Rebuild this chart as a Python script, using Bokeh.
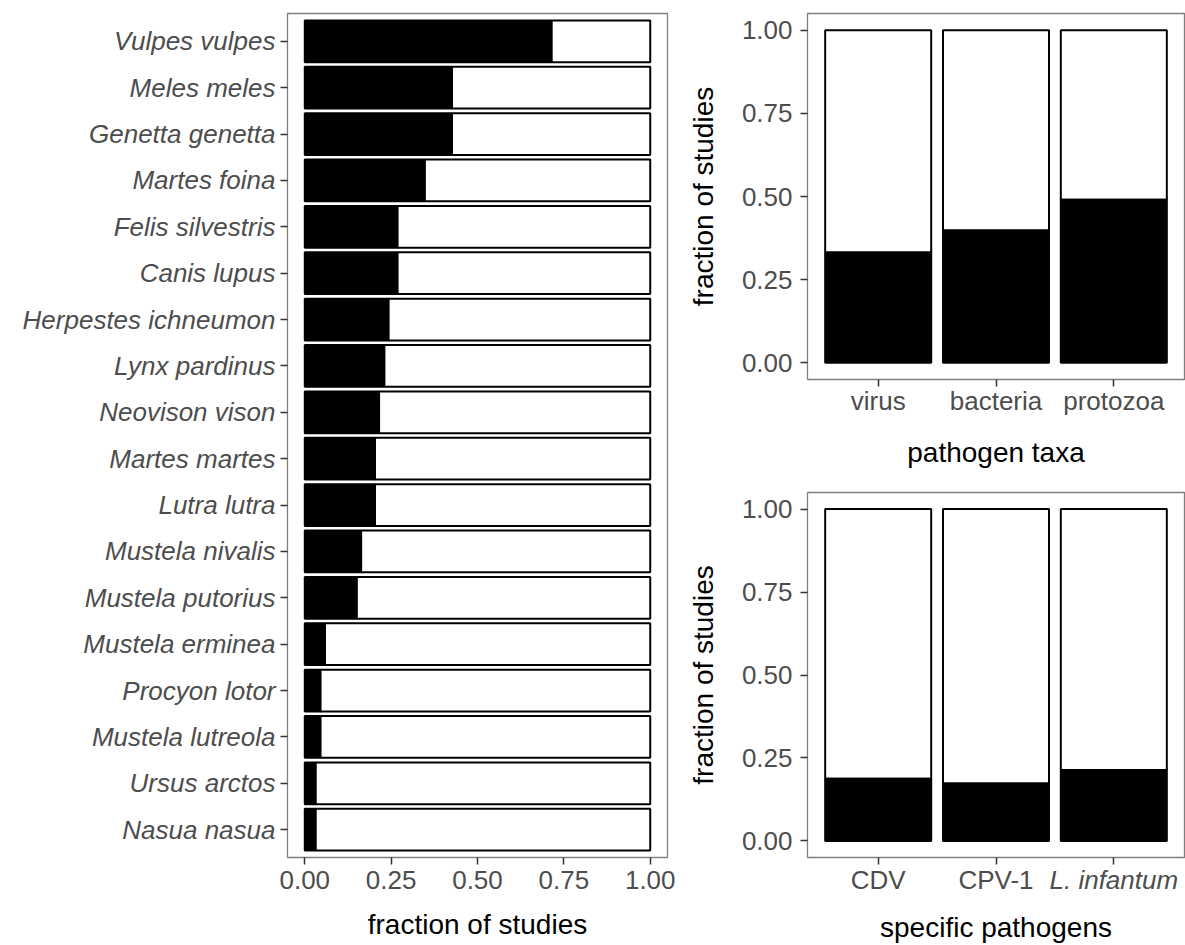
from bokeh.plotting import figure
from bokeh.layouts import row, column
from bokeh.models import (FactorRange, Range1d, FixedTicker, NumeralTickFormatter,
                          CategoricalAxis, CustomJSTickFormatter)
from bokeh.embed import file_html
from bokeh.resources import INLINE

# ---------------- data ----------------
species = ["Vulpes vulpes", "Meles meles", "Genetta genetta", "Martes foina",
           "Felis silvestris", "Canis lupus", "Herpestes ichneumon", "Lynx pardinus",
           "Neovison vison", "Martes martes", "Lutra lutra", "Mustela nivalis",
           "Mustela putorius", "Mustela erminea", "Procyon lotor", "Mustela lutreola",
           "Ursus arctos", "Nasua nasua"]
species_frac = [0.714, 0.426, 0.426, 0.347, 0.268, 0.268, 0.242, 0.230, 0.215,
                0.203, 0.203, 0.163, 0.150, 0.058, 0.045, 0.045, 0.031, 0.031]

taxa = ["virus", "bacteria", "protozoa"]
taxa_frac = [0.332, 0.398, 0.490]

pathogens = ["CDV", "CPV-1", "L. infantum"]
pathogen_frac = [0.187, 0.173, 0.214]

frac_ticks = [0, 0.25, 0.5, 0.75, 1.0]
total = 1.0

FONT = "Liberation Sans"
TICK_COL = "#4D4D4D"
TICK_SIZE = "26px"
TITLE_SIZE = "28px"
TICK_OUT = 7
LABEL_ROW = 33   # height Bokeh reserves for one row of 26px tick labels (+ padding)


def style_axis(ax):
    ax.axis_line_color = None
    ax.major_tick_line_color = "#333333"
    ax.major_tick_line_width = 1.5
    ax.major_tick_out = TICK_OUT
    ax.major_tick_in = 0
    ax.minor_tick_line_color = None
    ax.major_label_text_font = FONT
    ax.major_label_text_font_size = TICK_SIZE
    ax.major_label_text_color = TICK_COL
    ax.axis_label_text_font = FONT
    ax.axis_label_text_font_size = TITLE_SIZE
    ax.axis_label_text_font_style = "normal"
    ax.axis_label_text_color = "black"


def style(p):
    p.outline_line_color = "#7F7F7F"
    p.outline_line_width = 1.3
    p.xgrid.visible = False
    p.ygrid.visible = False
    p.background_fill_color = "white"
    p.border_fill_color = "white"
    for ax in p.axis:
        style_axis(ax)


# ---------------- left panel ----------------
left = figure(width=680, height=945,
              y_range=FactorRange(*reversed(species), range_padding=0.1,
                                  range_padding_units="absolute"),
              x_range=Range1d(-0.05, 1.05),
              output_backend="svg", toolbar_location=None,
              min_border_left=287, min_border_right=13,
              min_border_top=13, min_border_bottom=88)
left.hbar(y=species, left=species_frac, right=total, height=0.9,
          fill_color="white", line_color="black", line_width=2)
left.hbar(y=species, left=0, right=species_frac, height=0.9,
          fill_color="black", line_color="black", line_width=2)
style(left)
left.xaxis.ticker = FixedTicker(ticks=frac_ticks)
left.xaxis.formatter = NumeralTickFormatter(format="0.00")
left.xaxis.axis_label = "fraction of studies"
left.xaxis.major_label_standoff = 6
left.xaxis.axis_label_standoff = 17
left.yaxis.major_label_text_font_style = "italic"
left.yaxis.major_label_standoff = 5


def vpanel(cats, fracs, xlabel, height, top_border, bottom_border,
           lab_standoff, title_standoff):
    p = figure(width=505, height=height,
               x_range=FactorRange(*cats, range_padding=0.1,
                                   range_padding_units="absolute"),
               y_range=Range1d(-0.05, 1.05),
               output_backend="svg", toolbar_location=None,
               min_border_left=127, min_border_right=1,
               min_border_top=top_border, min_border_bottom=bottom_border)
    p.vbar(x=cats, bottom=fracs, top=total, width=0.9,
           fill_color="white", line_color="black", line_width=2)
    p.vbar(x=cats, bottom=0, top=fracs, width=0.9,
           fill_color="black", line_color="black", line_width=2)
    style(p)
    p.yaxis.ticker = FixedTicker(ticks=frac_ticks)
    p.yaxis.formatter = NumeralTickFormatter(format="0.00")
    p.yaxis.axis_label = "fraction of studies"
    p.yaxis.major_label_standoff = 8
    p.yaxis.axis_label_standoff = 20
    p.xaxis.axis_label = xlabel
    p.xaxis.major_label_standoff = lab_standoff
    p.xaxis.axis_label_standoff = title_standoff
    return p


top = vpanel(taxa, taxa_frac, "pathogen taxa", 470, 13, 91, -1, 18)
bottom = vpanel(pathogens, pathogen_frac, None, 475, 22, 88, 0, 0)

# The species name among the pathogens is italic.  The main axis shows the
# other two names; a second axis, stacked below it, is pulled back up onto the
# same row (negative standoff) and shows only the italic name plus the title.
italic_name = pathogens[2]
bottom.xaxis.formatter = CustomJSTickFormatter(
    args=dict(name=italic_name), code="return tick == name ? '' : tick;")
italic_axis = CategoricalAxis(
    formatter=CustomJSTickFormatter(args=dict(name=italic_name),
                                    code="return tick == name ? tick : '';"))
style_axis(italic_axis)
italic_axis.major_tick_out = 0
italic_axis.major_tick_line_color = None
italic_axis.major_label_text_font_style = "italic"
italic_axis.major_label_standoff = -LABEL_ROW
italic_axis.axis_label = "specific pathogens"
italic_axis.axis_label_standoff = 14
bottom.add_layout(italic_axis, "below")

layout = row(left, column(top, bottom))
open("out.html", "w").write(file_html(layout, INLINE))
